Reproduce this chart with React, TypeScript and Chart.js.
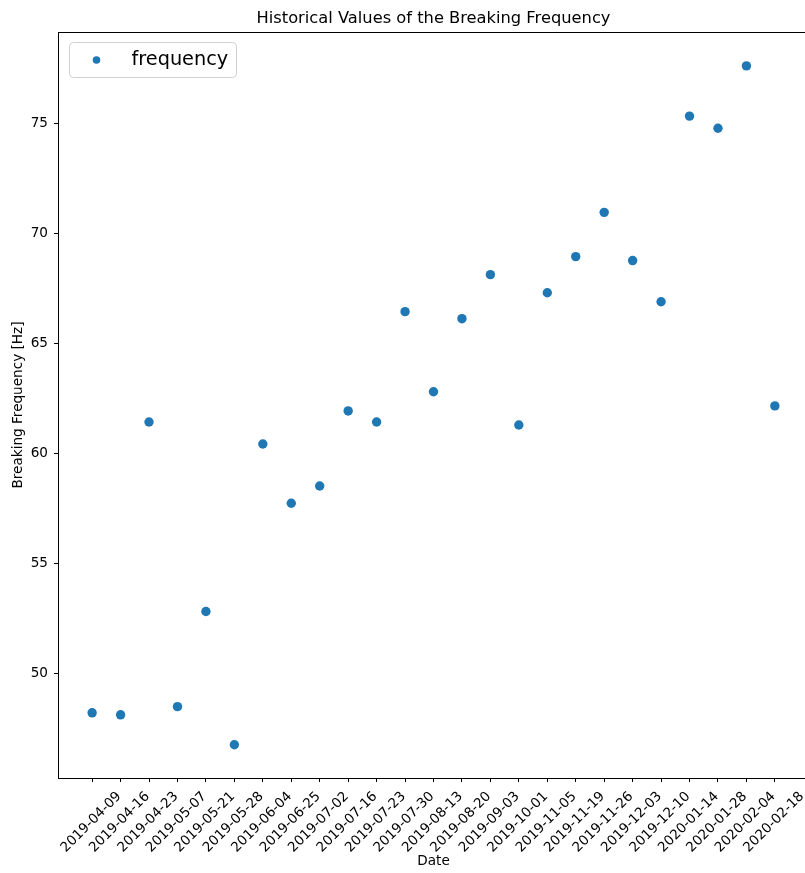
import React, { useEffect, useRef } from 'react';
import { Chart, registerables } from 'chart.js';

Chart.register(...registerables);

const dates = [
  '2019-04-09', '2019-04-16', '2019-04-23', '2019-05-07', '2019-05-21',
  '2019-05-28', '2019-06-04', '2019-06-25', '2019-07-02', '2019-07-16',
  '2019-07-23', '2019-07-30', '2019-08-13', '2019-08-20', '2019-09-03',
  '2019-10-01', '2019-11-05', '2019-11-19', '2019-11-26', '2019-12-03',
  '2019-12-10', '2020-01-14', '2020-01-28', '2020-02-04', '2020-02-18',
];
const frequency = [
  48.22, 48.13, 61.43, 48.5, 52.82,
  46.77, 60.43, 57.74, 58.52, 61.93,
  61.43, 66.44, 62.8, 66.12, 68.12,
  61.29, 67.3, 68.94, 70.95, 68.76,
  66.89, 75.32, 74.77, 77.6, 62.16,
];
const yTicks = [50, 55, 60, 65, 70, 75];
const chartTitle = 'Historical Values of the Breaking Frequency';
const seriesName = 'frequency';
const xTitle = 'Date';
const yTitle = 'Breaking Frequency [Hz]';

const FONT = "'DejaVu Sans', sans-serif";
const BLUE = '#1f77b4';
const LABEL_SIZE = 13.6;

const frameAndLegend = {
  id: 'frameAndLegend',
  afterDraw(chart: any) {
    const { ctx, chartArea } = chart;
    ctx.save();
    ctx.strokeStyle = '#000';
    ctx.lineWidth = 1;
    ctx.strokeRect(chartArea.left + 0.5, chartArea.top + 0.5, chartArea.right - chartArea.left, chartArea.bottom - chartArea.top);

    // legend
    const ds = chart.data.datasets[0];
    const bx = chartArea.left + 11.5;
    const by = chartArea.top + 10.5;
    const bw = 167;
    const bh = 35;
    const r = 4;
    ctx.beginPath();
    ctx.moveTo(bx + r, by);
    ctx.lineTo(bx + bw - r, by);
    ctx.arcTo(bx + bw, by, bx + bw, by + r, r);
    ctx.lineTo(bx + bw, by + bh - r);
    ctx.arcTo(bx + bw, by + bh, bx + bw - r, by + bh, r);
    ctx.lineTo(bx + r, by + bh);
    ctx.arcTo(bx, by + bh, bx, by + bh - r, r);
    ctx.lineTo(bx, by + r);
    ctx.arcTo(bx, by, bx + r, by, r);
    ctx.closePath();
    ctx.fillStyle = 'rgba(255,255,255,0.8)';
    ctx.fill();
    ctx.strokeStyle = '#d0d0d0';
    ctx.stroke();

    ctx.beginPath();
    ctx.arc(bx + 27, by + bh / 2, 3.8, 0, Math.PI * 2);
    ctx.fillStyle = ds.backgroundColor;
    ctx.fill();

    ctx.fillStyle = '#000';
    ctx.font = `19.3px ${FONT}`;
    ctx.textAlign = 'left';
    ctx.textBaseline = 'middle';
    ctx.fillText(ds.label, bx + 62, by + bh / 2);
    ctx.restore();
  },
};

export default function App() {
  const ref = useRef<HTMLCanvasElement>(null);
  useEffect(() => {
    if (!ref.current) return;
    const chart = new Chart(ref.current, {
      type: 'scatter',
      data: {
        datasets: [
          {
            label: seriesName,
            data: frequency.map((v, i) => ({ x: i, y: v })),
            backgroundColor: BLUE,
            borderColor: BLUE,
            borderWidth: 0,
            pointRadius: 4.7,
            pointHoverRadius: 4.7,
          },
        ],
      },
      options: {
        responsive: false,
        animation: false,
        layout: { padding: 0 },
        plugins: {
          legend: { display: false },
          tooltip: { enabled: false },
          title: {
            display: true,
            text: chartTitle,
            color: '#000',
            font: { family: FONT, size: 16.3, weight: 'normal' },
            padding: { top: 8.7, bottom: 3.74 },
          },
        },
        scales: {
          x: {
            type: 'linear',
            min: -1.2,
            max: 25.2,
            afterBuildTicks: (scale: any) => {
              scale.ticks = dates.map((_, i) => ({ value: i }));
            },
            afterFit: (scale: any) => {
              scale.height = 95;
            },
            border: { display: false },
            grid: { drawOnChartArea: false, drawTicks: true, tickLength: 4, color: '#000' },
            ticks: {
              autoSkip: false,
              minRotation: 45,
              maxRotation: 45,
              padding: 6.5,
              labelOffset: 27,
              color: '#000',
              font: { family: FONT, size: LABEL_SIZE },
              callback: (v: any) => dates[v] ?? '',
            },
            title: {
              display: true,
              text: xTitle,
              color: '#000',
              font: { family: FONT, size: LABEL_SIZE },
              padding: { top: 0, bottom: 3.3 },
            },
          },
          y: {
            type: 'linear',
            min: 45.26,
            max: 79.14,
            afterBuildTicks: (scale: any) => {
              scale.ticks = yTicks.map((v) => ({ value: v }));
            },
            afterFit: (scale: any) => {
              scale.width = 58;
            },
            border: { display: false },
            grid: { drawOnChartArea: false, drawTicks: true, tickLength: 4, color: '#000' },
            ticks: {
              padding: 6,
              color: '#000',
              font: { family: FONT, size: LABEL_SIZE },
            },
            title: {
              display: true,
              text: yTitle,
              color: '#000',
              font: { family: FONT, size: LABEL_SIZE },
              padding: { top: 10.5, bottom: 0 },
            },
          },
          yRight: {
            type: 'linear',
            position: 'right',
            display: true,
            afterFit: (scale: any) => {
              scale.width = 58;
            },
            border: { display: false },
            grid: { display: false },
            ticks: { display: false },
          },
        },
      },
      plugins: [frameAndLegend],
    });
    return () => chart.destroy();
  }, []);

  return (
    <div style={{ position: 'absolute', left: 0, top: 0, width: 805, height: 873, overflow: 'hidden', background: '#fff' }}>
      <canvas ref={ref} width={867} height={873} style={{ display: 'block', width: 867, height: 873 }} />
    </div>
  );
}
